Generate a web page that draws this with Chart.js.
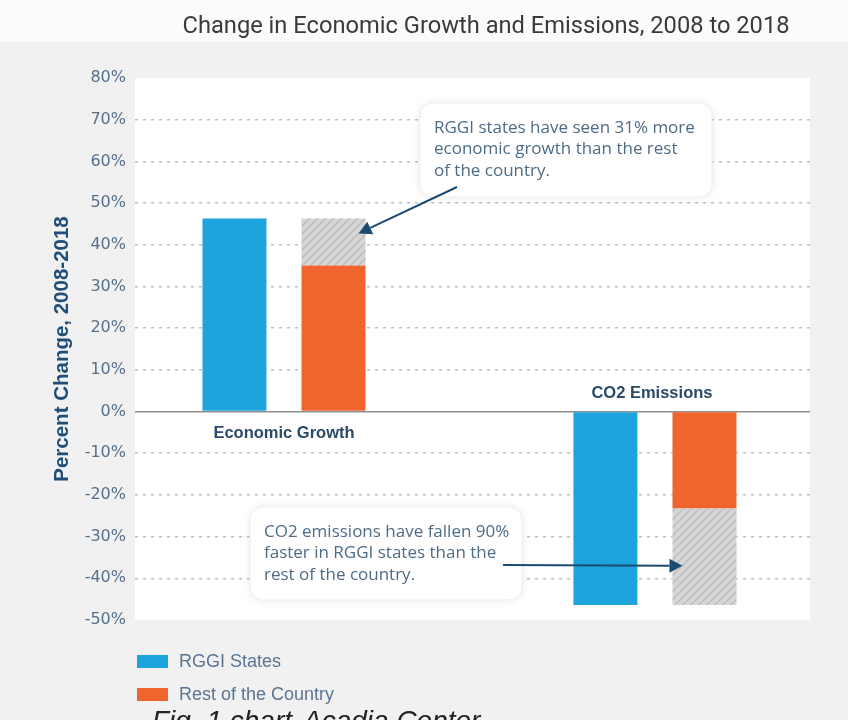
<!DOCTYPE html>
<html>
<head>
<meta charset="utf-8">
<title>Change in Economic Growth and Emissions, 2008 to 2018</title>
<script src="https://cdn.jsdelivr.net/npm/chart.js@4.4.1/dist/chart.umd.min.js"></script>
<style>
  html, body { margin: 0; padding: 0; background: #f2f2f2; }
  #wrap { width: 848px; height: 720px; }
</style>
</head>
<body>
<div id="wrap"><canvas id="chart" width="848" height="720"></canvas></div>
<script>
// Data
const categories = ['Economic Growth', 'CO2 Emissions'];
const groupPos = [0, 1];
const rggiStates = [46.3, -46.4];
const restOfCountry = [35, -23.2];
const gapToRggi = [11.3, -23.2];   // hatched part: difference to RGGI bar
const yTicks = [80, 70, 60, 50, 40, 30, 20, 10, 0, -10, -20, -30, -40, -50];

const notes = [
    ['RGGI states have seen 31% more', 'economic growth than the rest', 'of the country.'],
    ['CO2 emissions have fallen 90%', 'faster in RGGI states than the', 'rest of the country.']
];

const BLUE = '#1fa3dd';
const ORANGE = '#f0652e';
const NAVY = '#1d4a72';
const SLATE = '#4e6b87';

const canvas = document.getElementById('chart');
const ctx0 = canvas.getContext('2d');

// grey hatch pattern for the difference part
function makeHatch() {
    const c = document.createElement('canvas');
    c.width = 8; c.height = 8;
    const g = c.getContext('2d');
    g.fillStyle = '#d6d6d6';
    g.fillRect(0, 0, 8, 8);
    g.strokeStyle = '#bcbcbc';
    g.lineWidth = 1.4;
    g.beginPath();
    g.moveTo(0, 8); g.lineTo(8, 0);
    g.moveTo(-2, 2); g.lineTo(2, -2);
    g.moveTo(6, 10); g.lineTo(10, 6);
    g.stroke();
    return ctx0.createPattern(c, 'repeat');
}

function toPoints(vals) {
    return vals.map((v, i) => ({ x: groupPos[i], y: v }));
}

// draw text squeezed horizontally to a given width (the original uses a condensed face)
function squeezedText(ctx, text, cx, cy, width) {
    const w = ctx.measureText(text).width;
    const k = Math.min(1, width / w);
    ctx.save();
    ctx.translate(cx, cy);
    ctx.scale(k, 1);
    ctx.textAlign = 'center';
    ctx.fillText(text, 0, 0);
    ctx.restore();
}

function roundBox(ctx, x, y, w, h, r) {
    ctx.beginPath();
    ctx.moveTo(x + r, y);
    ctx.arcTo(x + w, y, x + w, y + h, r);
    ctx.arcTo(x + w, y + h, x, y + h, r);
    ctx.arcTo(x, y + h, x, y, r);
    ctx.arcTo(x, y, x + w, y, r);
    ctx.closePath();
}

function arrow(ctx, x1, y1, x2, y2) {
    const a = Math.atan2(y2 - y1, x2 - x1);
    const len = 13, half = 7;
    const bx = x2 - len * Math.cos(a), by = y2 - len * Math.sin(a);
    ctx.strokeStyle = NAVY;
    ctx.fillStyle = NAVY;
    ctx.lineWidth = 2;
    ctx.beginPath();
    ctx.moveTo(x1, y1);
    ctx.lineTo(bx, by);
    ctx.stroke();
    ctx.beginPath();
    ctx.moveTo(x2, y2);
    ctx.lineTo(bx + half * Math.sin(a), by - half * Math.cos(a));
    ctx.lineTo(bx - half * Math.sin(a), by + half * Math.cos(a));
    ctx.closePath();
    ctx.fill();
}

// backgrounds, white plot panel and title
const backdrop = {
    id: 'backdrop',
    beforeDraw(chart) {
        const { ctx, chartArea: a } = chart;
        ctx.save();
        ctx.fillStyle = '#fbfbfb';
        ctx.fillRect(0, 0, chart.width, 42);
        ctx.fillStyle = '#f1f1f1';
        ctx.fillRect(0, 42, chart.width, chart.height - 42);
        ctx.fillStyle = '#ffffff';
        ctx.fillRect(a.left, a.top, a.right - a.left, a.bottom - a.top);
        ctx.fillStyle = '#3a3a3a';
        ctx.font = '24px Roboto, "Liberation Sans", sans-serif';
        ctx.textBaseline = 'middle';
        squeezedText(ctx, 'Change in Economic Growth and Emissions, 2008 to 2018', 486, 27, 607);
        ctx.restore();
    }
};

// category names next to the zero line, callouts, legend
const extras = {
    id: 'extras',
    afterDatasetsDraw(chart) {
        const { ctx } = chart;
        const xs = chart.scales.x, ys = chart.scales.y;
        const zero = ys.getPixelForValue(0);
        ctx.save();

        // category labels
        ctx.font = 'bold 16.5px "Liberation Sans", sans-serif';
        ctx.fillStyle = '#2b4a68';
        ctx.textAlign = 'center';
        ctx.textBaseline = 'middle';
        categories.forEach((c, i) => {
            const below = rggiStates[i] >= 0;
            ctx.fillText(c, xs.getPixelForValue(groupPos[i]) + (below ? 0 : -3), zero + (below ? 22 : -18));
        });

        // callout boxes
        const boxes = [
            { x: 420, y: 103, w: 292, h: 94 },
            { x: 250, y: 507, w: 272, h: 93 }
        ];
        boxes.forEach((b, k) => {
            ctx.save();
            ctx.shadowColor = 'rgba(0,0,0,0.10)';
            ctx.shadowBlur = 8;
            ctx.fillStyle = '#ffffff';
            roundBox(ctx, b.x, b.y, b.w, b.h, 13);
            ctx.fill();
            ctx.restore();
            ctx.strokeStyle = '#efefef';
            ctx.lineWidth = 1;
            roundBox(ctx, b.x, b.y, b.w, b.h, 13);
            ctx.stroke();
            ctx.font = '17px "Open Sans", sans-serif';
            ctx.fillStyle = SLATE;
            ctx.textAlign = 'left';
            ctx.textBaseline = 'middle';
            notes[k].forEach((line, j) => {
                ctx.fillText(line, b.x + 14, b.y + 25 + j * 21.5);
            });
        });

        // arrows pointing at the hatched parts
        const hatchBars = chart.getDatasetMeta(2).data;
        const h0 = hatchBars[0], h1 = hatchBars[1];
        arrow(ctx, 457, 187, h0.x + h0.width / 2 - 7, ys.getPixelForValue(42.7));
        arrow(ctx, 503, 565, h1.x - h1.width / 2 + 10, ys.getPixelForValue(-37));

        // legend
        ctx.font = '18px "Liberation Sans Narrow", "Liberation Sans", sans-serif';
        ctx.textAlign = 'left';
        ctx.textBaseline = 'middle';
        [0, 1].forEach((d, i) => {
            const ds = chart.data.datasets[d];
            const y = 655 + i * 33;
            ctx.fillStyle = ds.backgroundColor;
            ctx.fillRect(137, y, 31, 13);
            ctx.fillStyle = '#5a7591';
            ctx.fillText(ds.label, 179, y + 7);
        });

        // cropped caption at the bottom edge
        ctx.font = 'italic 28px "Liberation Sans", sans-serif';
        ctx.fillStyle = '#222222';
        ctx.textAlign = 'right';
        ctx.textBaseline = 'alphabetic';
        ctx.fillText('Fig. 1 chart', 292, 730);
        ctx.textAlign = 'left';
        ctx.fillText('Acadia Center', 303, 730);

        ctx.restore();
    }
};

new Chart(canvas, {
    type: 'bar',
    data: {
        datasets: [
            {
                label: 'RGGI States',
                data: toPoints(rggiStates),
                backgroundColor: BLUE,
                stack: 'rggi'
            },
            {
                label: 'Rest of the Country',
                data: toPoints(restOfCountry),
                backgroundColor: ORANGE,
                stack: 'rest'
            },
            {
                label: 'Difference',
                data: toPoints(gapToRggi),
                backgroundColor: makeHatch(),
                stack: 'rest'
            }
        ]
    },
    options: {
        responsive: false,
        animation: false,
        devicePixelRatio: 1,
        categoryPercentage: 0.534,
        barPercentage: 0.646,
        layout: { padding: { left: 0, right: 38, top: 78, bottom: 100 } },
        plugins: {
            legend: { display: false },
            tooltip: { enabled: false },
            title: { display: false }
        },
        scales: {
            x: {
                type: 'linear',
                display: false,
                offset: false,
                stacked: true,
                min: -0.4016,
                max: 1.418,
                afterBuildTicks: (axis) => { axis.ticks = groupPos.map(v => ({ value: v })); }
            },
            y: {
                stacked: true,
                min: -50,
                max: 80,
                afterBuildTicks: (axis) => { axis.ticks = yTicks.map(v => ({ value: v })); },
                afterFit: (s) => { s.width = 135; },
                border: {
                    display: false,
                    dash: (c) => (c.tick && c.tick.value === 0 ? [] : [3, 5])
                },
                grid: {
                    drawTicks: false,
                    color: (c) => {
                        const v = c.tick ? c.tick.value : null;
                        if (v === 0) return '#8e8e8e';
                        if (v === 80 || v === -50) return 'rgba(0,0,0,0)';
                        return '#bdbdbd';
                    },
                    lineWidth: (c) => (c.tick && c.tick.value === 0 ? 1.5 : 1.6)
                },
                ticks: {
                    padding: 9,
                    color: '#56708c',
                    font: { family: '"DejaVu Sans", sans-serif', size: 16 },
                    callback: (v) => v + '%'
                },
                title: {
                    display: true,
                    text: 'Percent Change, 2008-2018',
                    color: '#1f4e79',
                    font: { family: '"Liberation Sans", sans-serif', size: 20.5, weight: 'bold' },
                    padding: { top: 50, bottom: 0 }
                }
            }
        }
    },
    plugins: [backdrop, extras]
});
</script>
</body>
</html>
